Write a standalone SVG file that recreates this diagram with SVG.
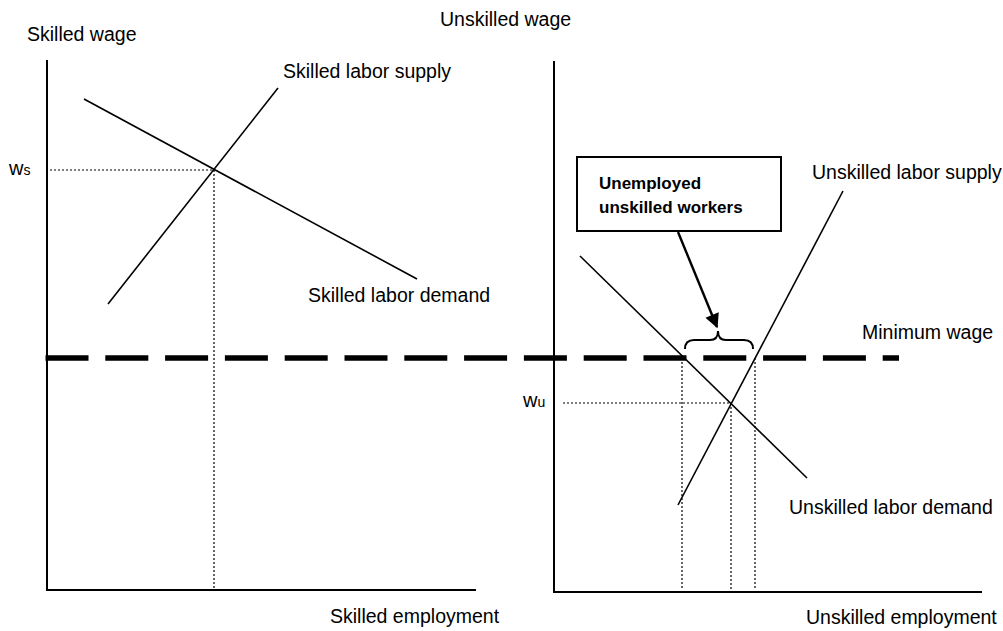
<svg xmlns="http://www.w3.org/2000/svg" width="1003" height="631" viewBox="0 0 1003 631">
<defs>
<style>
text{font-family:"Liberation Sans",Arial,sans-serif;fill:#000}
.lbl{font-size:19.5px}
.bold{font-size:17px;font-weight:bold}
.axis{stroke:#000;stroke-width:2;fill:none}
.curve{stroke:#000;stroke-width:1.6;fill:none}
.dot{stroke:#000;stroke-width:1.2;stroke-dasharray:2 2;fill:none}
</style>
<marker id="ah" viewBox="0 0 10 10" refX="9" refY="5" markerWidth="7" markerHeight="6" markerUnits="strokeWidth" orient="auto">
<path d="M0,0 L10,5 L0,10 Z" fill="#000"/>
</marker>
</defs>
<rect width="1003" height="631" fill="#fff"/>
<g id="skilled-panel">
<line class="axis" x1="47" y1="60" x2="47" y2="591"/>
<line class="axis" x1="46" y1="590" x2="476" y2="590"/>
<text class="lbl" x="27" y="41">Skilled wage</text>
<text class="lbl" x="330" y="623">Skilled employment</text>
<text x="9" y="175" style="font-size:20px">w<tspan style="font-size:14px">s</tspan></text>
<line class="dot" x1="50" y1="170" x2="214" y2="170"/>
<line class="dot" x1="214" y1="170" x2="214" y2="588"/>
</g>
<g id="skilled-supply">
<line class="curve" x1="108" y1="304" x2="278" y2="88"/>
<text class="lbl" x="283" y="78">Skilled labor supply</text>
</g>
<g id="skilled-demand">
<line class="curve" x1="84" y1="99" x2="417" y2="279"/>
<text class="lbl" x="308" y="302">Skilled labor demand</text>
</g>
<g id="unskilled-panel">
<line class="axis" x1="554" y1="61" x2="554" y2="593"/>
<line class="axis" x1="553" y1="592" x2="982" y2="592"/>
<text class="lbl" x="440" y="26">Unskilled wage</text>
<text class="lbl" x="806" y="624">Unskilled employment</text>
<text x="523" y="407" style="font-size:20px">w<tspan style="font-size:14px">u</tspan></text>
<line class="dot" x1="563" y1="403" x2="731" y2="403"/>
<line class="dot" x1="682" y1="358" x2="682" y2="590"/>
<line class="dot" x1="731" y1="403" x2="731" y2="590"/>
<line class="dot" x1="755" y1="358" x2="755" y2="590"/>
</g>
<g id="unskilled-supply">
<line class="curve" x1="678" y1="505" x2="843" y2="191"/>
<text class="lbl" x="812" y="179">Unskilled labor supply</text>
</g>
<g id="unskilled-demand">
<line class="curve" x1="580" y1="256" x2="807" y2="478"/>
<text class="lbl" x="789" y="514">Unskilled labor demand</text>
</g>
<g id="minimum-wage">
<line x1="45.5" y1="358" x2="899" y2="358" stroke="#000" stroke-width="5.5" stroke-dasharray="43 16.8"/>
<text class="lbl" x="862" y="339">Minimum wage</text>
</g>
<g id="unemployed-box">
<rect x="577" y="157" width="204" height="74" fill="#fff" stroke="#000" stroke-width="2"/>
<text class="bold" x="599" y="189">Unemployed</text>
<text class="bold" x="599" y="213">unskilled workers</text>
</g>
<g id="brace">
<path d="M685,349 Q685,340 694,340 L710,340 Q718,340 718,331 Q718,340 726,340 L744,340 Q753,340 753,349" fill="none" stroke="#000" stroke-width="2"/>
</g>
<g id="connectors">
<line x1="678" y1="232" x2="717" y2="327" stroke="#000" stroke-width="2.4" marker-end="url(#ah)"/>
</g>
</svg>
